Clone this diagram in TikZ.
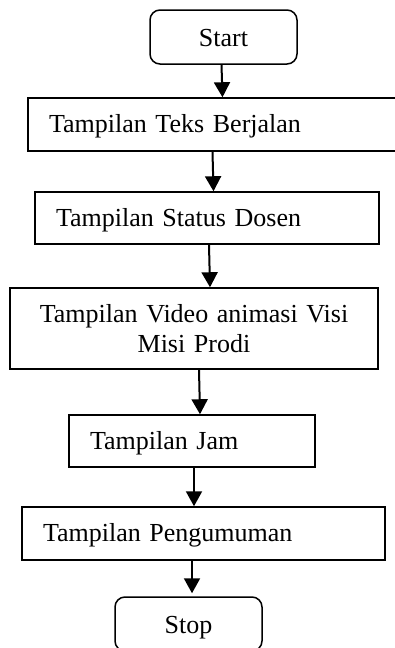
\documentclass[tikz,border=0pt]{standalone}
\usepackage{fontspec}
\setmainfont{Liberation Serif}
\usepackage{tikz}
\usetikzlibrary{arrows.meta}
\usetikzlibrary{calc}
\usetikzlibrary{positioning}
\tikzset{
    proc/.style={draw,line width=1.5pt,rectangle,minimum height=53pt,inner xsep=21pt,align=left,text height=18pt,text depth=2pt},
    term/.style={draw,line width=1.5pt,rectangle,rounded corners=10pt,minimum width=147pt,minimum height=54pt,text height=18pt,text depth=0pt},
    flow/.style={line width=2pt,-{Triangle[length=15pt,width=16pt]}}
}
\begin{document}
\begin{tikzpicture}[x=1pt,y=-1pt,font=\fontsize{26}{30}\selectfont]
\useasboundingbox (0,0) rectangle (395,648);
% terminals and process boxes
\node[term] (start) at (223.5,37) {Start};
\node[proc,text width=327pt] (teks) at (212.5,124.5) {Tampilan Teks Berjalan};
\node[proc,text width=302pt,minimum height=52pt] (status) at (207,218) {Tampilan Status Dosen};
\node[draw,line width=1.5pt,text width=330pt,inner xsep=19pt,minimum height=81pt,align=center] (video) at (194,328.5) {Tampilan Video animasi Visi\\Misi Prodi};
\node[proc,text width=204pt,minimum height=52pt] (jam) at (192,441) {Tampilan Jam};
\node[proc,text width=321pt] (umum) at (203.5,533.5) {Tampilan Pengumuman};
\node[term] (stop) at (188.5,624) {Stop};
% arrows between the boxes
\draw[flow] ([xshift=-2pt]start.south) -- ([xshift=-1pt]start.south |- teks.north);
\draw[flow] (teks.south) -- ([xshift=1pt]teks.south |- status.north);
\draw[flow] ([xshift=2pt]status.south) -- ([xshift=3pt]status.south |- video.north);
\draw[flow] ([xshift=5pt]video.south) -- ([xshift=6pt]video.south |- jam.north);
\draw[flow] ([xshift=2pt]jam.south) -- ([xshift=2pt]jam.south |- umum.north);
\draw[flow,shorten >=3pt] ([xshift=3.5pt]stop.north |- umum.south) -- ([xshift=3.5pt]stop.north);
\end{tikzpicture}
\end{document}
